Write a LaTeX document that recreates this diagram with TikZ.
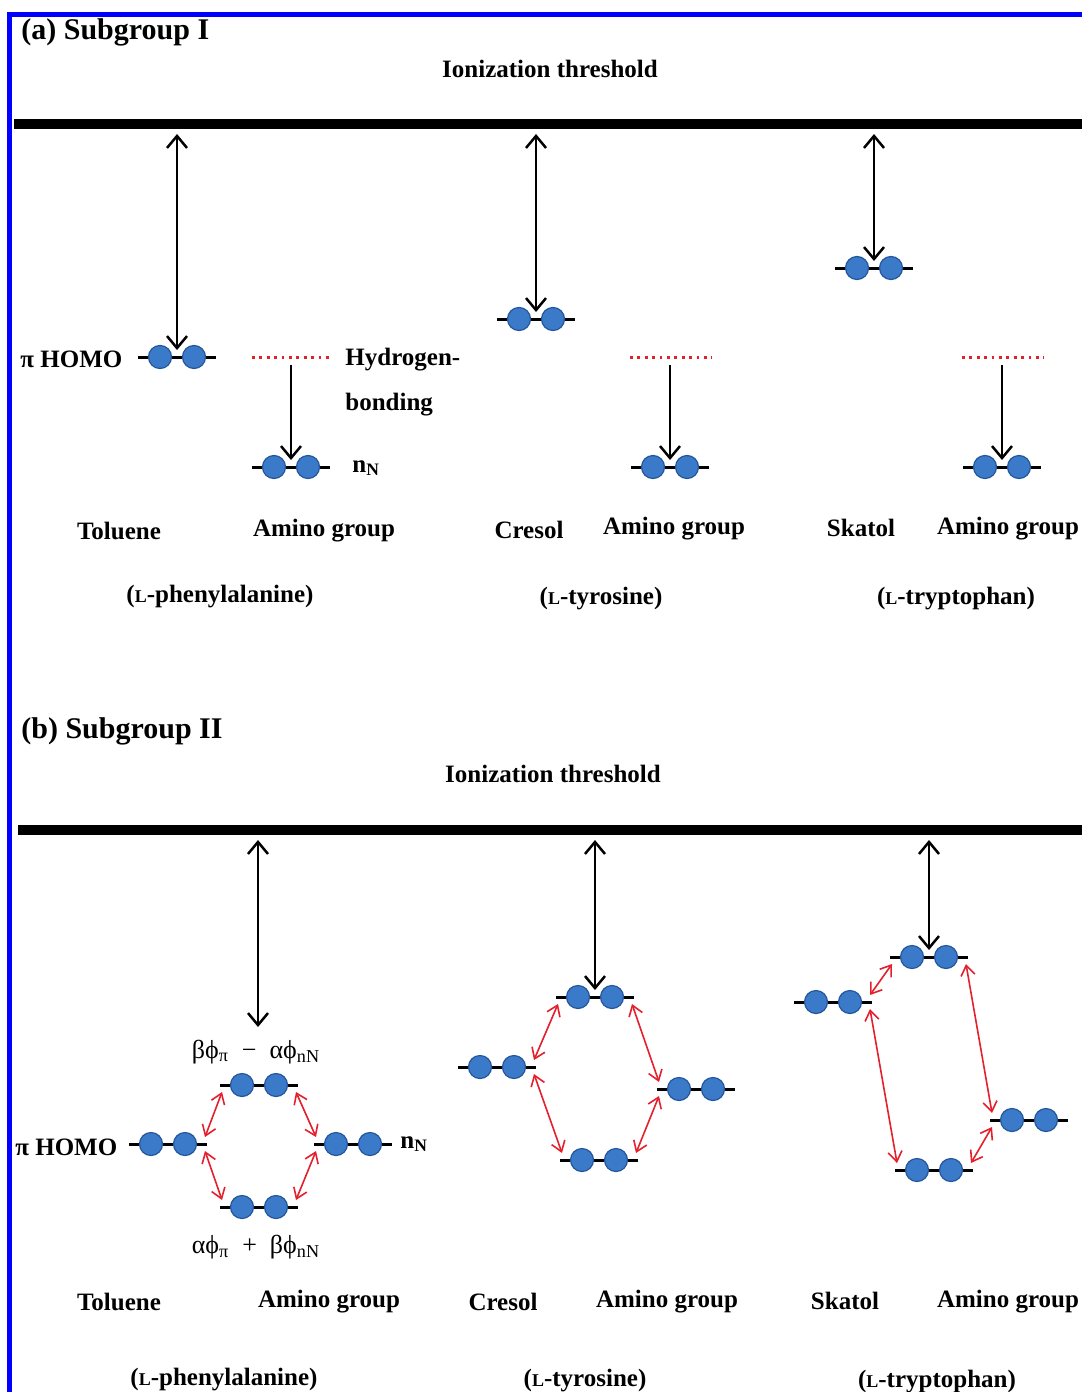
\documentclass[tikz,border=0pt]{standalone}
\usepackage{fontspec}
\setmainfont{Liberation Serif}
\usetikzlibrary{arrows.meta}
\definecolor{orbblue}{RGB}{58,122,200}
\definecolor{orbedge}{RGB}{36,86,156}
\definecolor{framebl}{RGB}{0,0,255}
\definecolor{bondred}{RGB}{228,32,44}
\newcommand{\Lsc}{{\fontsize{9pt}{9pt}\selectfont L}}
\tikzset{
  frame-line/.style={draw=framebl, line width=2.5pt},
  threshold/.style={draw=black, line width=5pt},
  level-line/.style={draw=black, line width=1.5pt},
  electron/.style={circle, draw=orbedge, fill=orbblue, line width=0.6pt, minimum size=11.5pt, inner sep=0pt},
  ion-arrow/.style={{Straight Barb[length=6pt,width=10pt]}-{Straight Barb[length=6pt,width=10pt]}, line width=1.25pt},
  drop-arrow/.style={-{Straight Barb[length=6pt,width=10pt]}, line width=1.25pt},
  mix-arrow/.style={{Straight Barb[length=5pt,width=7pt]}-{Straight Barb[length=5pt,width=7pt]}, draw=bondred, line width=0.8pt},
  hbond/.style={draw=bondred, line width=1.5pt, dash pattern=on 1.4pt off 2.3pt},
  title-text/.style={font=\bfseries\fontsize{15pt}{18pt}\selectfont, anchor=west, inner sep=0pt},
  label-text/.style={font=\bfseries\fontsize{12.5pt}{15pt}\selectfont, inner sep=0pt},
  coef-text/.style={font=\fontsize{13pt}{15pt}\selectfont, inner sep=0pt},
  orbital/.pic={
    \draw[level-line] (-39,0) -- (39,0);
    \node[electron] (-a) at (-17,0) {};
    \node[electron] (-b) at (17,0) {};
    \coordinate (-top) at (0,-7);
    \coordinate (-ne) at (37,-7);
    \coordinate (-se) at (37,7);
    \coordinate (-nw) at (-37,-7);
    \coordinate (-sw) at (-37,7);
  }
}

\begin{document}
\begin{tikzpicture}[x=0.5pt, y=-0.5pt]
  \useasboundingbox (0,0) rectangle (1082,1392);

  % Frame
  \draw[frame-line] (9,1392) -- (9,14) -- (1082,14);

  % (a) Subgroup I
  \node[title-text] (titleA) at (21,32) {(a) Subgroup I};
  \node[label-text] (ionA) at (550,69) {Ionization threshold};
  \draw[threshold] (14,124) -- (1082,124);
  \coordinate (topTolA) at (177,134);
  \coordinate (topCreA) at (536,134);
  \coordinate (topSkaA) at (874,134);

  % Toluene + amino group
  \pic (tolA) at (177,357) {orbital};
  \pic (tolN) at (291,467) {orbital};
  \draw[hbond] (252,357) -- (333,357);
  \coordinate (hbTol) at (291,365);
  \draw[ion-arrow] (topTolA) -- (tolA-top);
  \draw[drop-arrow] (hbTol) -- (tolN-top);
  \node[label-text, anchor=west] (homoA) at (20,359) {π HOMO};
  \node[label-text, anchor=west] (hydro) at (345,360) {Hydrogen-};
  \node[label-text, anchor=west] (bond) at (345,405) {bonding};
  \node[label-text, anchor=west] (nTolA) at (352,468) {n\textsubscript{N}};
  \node[label-text] (tolNameA) at (119,531) {Toluene};
  \node[label-text] (tolAmA) at (324,531) {Amino group};
  \node[label-text] (pheA) at (220,597) {(\Lsc-phenylalanine)};

  % Cresol + amino group
  \pic (creA) at (536,319) {orbital};
  \pic (creN) at (670,467) {orbital};
  \draw[hbond] (630,357) -- (712,357);
  \coordinate (hbCre) at (670,365);
  \draw[ion-arrow] (topCreA) -- (creA-top);
  \draw[drop-arrow] (hbCre) -- (creN-top);
  \node[label-text] (creNameA) at (529,530) {Cresol};
  \node[label-text] (creAmA) at (674,529) {Amino group};
  \node[label-text] (tyrA) at (601,599) {(\Lsc-tyrosine)};

  % Skatol + amino group
  \pic (skaA) at (874,268) {orbital};
  \pic (skaN) at (1002,467) {orbital};
  \draw[hbond] (962,357) -- (1044,357);
  \coordinate (hbSka) at (1002,365);
  \draw[ion-arrow] (topSkaA) -- (skaA-top);
  \draw[drop-arrow] (hbSka) -- (skaN-top);
  \node[label-text] (skaNameA) at (861,528) {Skatol};
  \node[label-text] (skaAmA) at (1008,529) {Amino group};
  \node[label-text] (trpA) at (956,599) {(\Lsc-tryptophan)};

  % (b) Subgroup II
  \node[title-text] (titleB) at (21,731) {(b) Subgroup II};
  \node[label-text] (ionB) at (553,774) {Ionization threshold};
  \draw[threshold] (18,830) -- (1082,830);
  \coordinate (topTolB) at (258,840);
  \coordinate (topCreB) at (595,840);
  \coordinate (topSkaB) at (929,840);

  % Toluene mixing
  \pic (tolL) at (168,1144) {orbital};
  \pic (tolR) at (353,1144) {orbital};
  \pic (tolHi) at (259,1085) {orbital};
  \pic (tolLo) at (259,1207) {orbital};
  \coordinate (tolTip) at (258,1027);
  \draw[ion-arrow] (topTolB) -- (tolTip);
  \draw[mix-arrow] (tolL-ne) -- (tolHi-sw);
  \draw[mix-arrow] (tolL-se) -- (tolLo-nw);
  \draw[mix-arrow] (tolHi-se) -- (tolR-nw);
  \draw[mix-arrow] (tolR-sw) -- (tolLo-ne);
  \node[coef-text] (antiB) at (256,1052) {βϕ\textsubscript{π}\ \ −\ \ αϕ\textsubscript{nN}};
  \node[coef-text] (bondB) at (256,1247) {αϕ\textsubscript{π}\ \ +\ \ βϕ\textsubscript{nN}};
  \node[label-text, anchor=west] (homoB) at (15,1147) {π HOMO};
  \node[label-text, anchor=west] (nTolB) at (400,1144) {n\textsubscript{N}};
  \node[label-text] (tolNameB) at (119,1302) {Toluene};
  \node[label-text] (tolAmB) at (329,1302) {Amino group};
  \node[label-text] (pheB) at (224,1380) {(\Lsc-phenylalanine)};

  % Cresol mixing
  \pic (creL) at (497,1067) {orbital};
  \pic (creR) at (696,1089) {orbital};
  \pic (creHi) at (595,997) {orbital};
  \pic (creLo) at (599,1160) {orbital};
  \draw[ion-arrow] (topCreB) -- (creHi-top);
  \draw[mix-arrow] (creL-ne) -- (creHi-sw);
  \draw[mix-arrow] (creL-se) -- (creLo-nw);
  \draw[mix-arrow] (creHi-se) -- (creR-nw);
  \draw[mix-arrow] (creR-sw) -- (creLo-ne);
  \node[label-text] (creNameB) at (503,1302) {Cresol};
  \node[label-text] (creAmB) at (667,1302) {Amino group};
  \node[label-text] (tyrB) at (585,1381) {(\Lsc-tyrosine)};

  % Skatol mixing
  \pic (skaL) at (833,1002) {orbital};
  \pic (skaR) at (1029,1120) {orbital};
  \pic (skaHi) at (929,957) {orbital};
  \pic (skaLo) at (934,1170) {orbital};
  \draw[ion-arrow] (topSkaB) -- (skaHi-top);
  \draw[mix-arrow] (skaL-ne) -- (skaHi-sw);
  \draw[mix-arrow] (skaL-se) -- (skaLo-nw);
  \draw[mix-arrow] (skaHi-se) -- (skaR-nw);
  \draw[mix-arrow] (skaR-sw) -- (skaLo-ne);
  \node[label-text] (skaNameB) at (845,1301) {Skatol};
  \node[label-text] (skaAmB) at (1008,1302) {Amino group};
  \node[label-text] (trpB) at (937,1382) {(\Lsc-tryptophan)};
\end{tikzpicture}
\end{document}
